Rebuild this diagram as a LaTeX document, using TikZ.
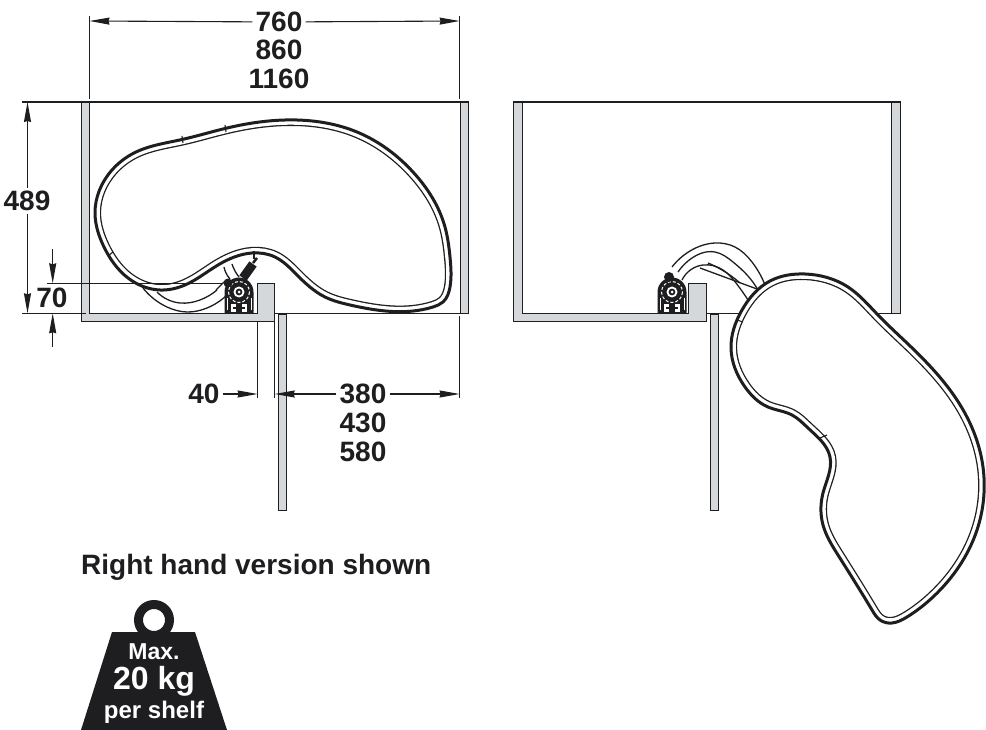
\documentclass[tikz,border=0pt]{standalone}
\usepackage{fontspec}
\setmainfont{Liberation Sans}
\usetikzlibrary{arrows.meta,hobby}
\definecolor{panelgrey}{HTML}{D5D8DA}
\definecolor{inkblack}{HTML}{1E1E20}
\tikzset{
	wall/.style={draw=inkblack, fill=panelgrey, line width=1, line join=miter},
	thin line/.style={draw=inkblack, line width=1.1},
	pipe/.style={draw=inkblack, line width=1.3},
	dimline/.style={draw=inkblack, line width=1.1, -{Stealth[length=20pt, width=7pt, inset=1pt]}},
	dimtext/.style={font=\bfseries\fontsize{28}{28}\selectfont, text=inkblack, inner sep=3pt},
	weighttext/.style={font=\bfseries\fontsize{#1}{#1}\selectfont, text=white, inner sep=0pt, anchor=base},
}
\def\kidney#1{
	\fill[white] plot[closed hobby] coordinates {#1};
	\begin{scope}
		\clip plot[closed hobby] coordinates {#1};
		\draw[inkblack, line width=12.2] plot[closed hobby] coordinates {#1};
		\draw[white, line width=9.6] plot[closed hobby] coordinates {#1};
	\end{scope}
	\draw[inkblack, line width=3, line join=round] plot[closed hobby] coordinates {#1};
}
\def\pivot#1{
	\begin{scope}[shift={(#1)}]
		\fill[inkblack] (-14.5,21) -- (-14.5,0) arc (180:360:14.5) -- (14.5,21) -- cycle;
		\draw[white, line width=1, dash pattern=on 3pt off 2pt] (0,0) circle (10.5);
		\fill[white] (0,0) circle (5.5);
		\fill[inkblack] (0,0) circle (3.4);
		\fill[white] (0,0) circle (1.5);
		\fill[white] (-8,12) rectangle (-3,20);
		\fill[white] (3,12) rectangle (8,20);
		\fill[inkblack] (-6,15) rectangle (6,17);
		\fill[white] (-12.5,6) rectangle (-11.5,18);
		\fill[white] (11.5,6) rectangle (12.5,18);
	\end{scope}
}

\begin{document}
\begin{tikzpicture}[x=1pt, y=-1pt]
	\useasboundingbox (0,0) rectangle (986,730);

	%%%%% LEFT CABINET %%%%%

	\draw[wall] (81,102) -- (81,322) -- (274.7,322) -- (274.7,283.3) -- (257.6,283.3) -- (257.6,313.3) -- (89.5,313.3) -- (89.5,102) -- cycle;
	\draw[wall] (460,102) rectangle (468.6,313.3);
	\draw[inkblack, line width=2.2] (81,102) -- (468.6,102);
	\draw[thin line] (274.7,313.3) -- (468.6,313.3);
	\draw[wall] (278,315) rectangle (286,510);

	\draw[pipe] plot[hobby] coordinates {(143,288) (167,307) (187,312) (207,308) (227,295)};
	\draw[pipe] plot[hobby] coordinates {(157,292) (180,303) (200,300) (217,290)};
	\draw[pipe] (216,290) -- (224,282);
	\draw[pipe] plot[hobby] coordinates {(224,267) (226,273) (230,279)};
	\draw[pipe] plot[hobby] coordinates {(232,264) (235,271) (239,277)};

	\kidney{(182,139.5) (225,128.5) (297,120) (357,132) (413,172) (445,227) (450,257) (450,287) (443,302) (433,307) (350,305) (325,297) (297,275) (275,257) (252,253) (218,265) (185,285) (160,290) (128,278) (104,247) (95,213) (112,170) (135,152.5)}

	\draw[thin line] (182,136) -- (183,143);
	\draw[thin line] (225,125) -- (226,132);
	\draw[thin line] (108,256) -- (113,252);
	\draw[thin line] (254,251) -- (254,259);

	\pivot{239,292}
	\fill[inkblack] (228,283) circle (4.5);
	\draw[inkblack, line width=9] (243,278) -- (253,264);
	\draw[inkblack, line width=2.5] (253,263) -- (257,258);

	%%%%% RIGHT CABINET %%%%%

	\draw[wall] (513,102) -- (513,322) -- (706.7,322) -- (706.7,283.3) -- (688.6,283.3) -- (688.6,313.3) -- (522,313.3) -- (522,102) -- cycle;
	\draw[wall] (891,102) rectangle (900,313.3);
	\draw[inkblack, line width=2.2] (513,102) -- (900,102);
	\draw[thin line] (706.7,313.3) -- (900,313.3);
	\draw[wall] (710,315) rectangle (718,510);

	\draw[pipe] plot[hobby] coordinates {(672,267) (690,251) (715,243) (735,247) (752,262) (765,285)};
	\draw[pipe] plot[hobby] coordinates {(678,272) (692,258) (715,252) (733,262) (748,276) (758,290)};
	\draw[pipe] plot[hobby] coordinates {(682,280) (703,265) (723,270) (736,283) (748,300)};
	\draw[pipe] (700,268) -- (757,289);
	\draw[pipe] plot[hobby] coordinates {(708,263) (722,270) (740,283)};

	\pivot{672,292}
	\fill[inkblack] (669,277) circle (5);

	\kidney{(805,274) (848,287) (878,315) (908,344) (962,408) (983,467) (977,530) (933,597) (907,617) (892,623) (880,620) (872,610) (838,555) (823,525) (823,493) (830,457) (808,428) (792,415) (768,407) (745,387) (731,348) (742,310) (770,281)}

	\draw[thin line] (876,313) -- (880,318);
	\draw[thin line] (907,343) -- (911,347);
	\draw[thin line] (737,320) -- (743,322);
	\draw[thin line] (820,438) -- (827,435);

	%%%%% DIMENSIONS %%%%%

	\node[dimtext] (width760) at (279,22) {760};
	\node[dimtext] (width860) at (279,50) {860};
	\node[dimtext] (width1160) at (279,79) {1160};
	\coordinate (widthleft) at (89.5,21);
	\coordinate (widthright) at (459.6,21);
	\draw[thin line] (89.5,16) -- (89.5,99);
	\draw[thin line] (459.6,16) -- (459.6,99);
	\draw[dimline] (width760) -- (widthleft);
	\draw[dimline] (width760) -- (widthright);

	\node[dimtext] (height489) at (27,201) {489};
	\coordinate (heighttop) at (27.5,102);
	\coordinate (heightbottom) at (27.5,313.3);
	\draw[thin line] (22,102) -- (81,102);
	\draw[thin line] (22,313.3) -- (86,313.3);
	\draw[dimline] (height489.north -| heighttop) -- (heighttop);
	\draw[dimline] (height489.south -| heightbottom) -- (heightbottom);

	\node[dimtext] (height70) at (52,298) {70};
	\coordinate (topstart) at (52.7,249);
	\coordinate (topend) at (52.7,283.3);
	\coordinate (bottomstart) at (52.7,347);
	\coordinate (bottomend) at (52.7,313.3);
	\draw[thin line] (47,283.3) -- (222,283.3);
	\draw[dimline] (topstart) -- (topend);
	\draw[dimline] (bottomstart) -- (bottomend);

	\node[dimtext] (gap40) at (204,394) {40};
	\coordinate (gapend) at (257.6,394);
	\draw[thin line] (257.6,322) -- (257.6,398);
	\draw[thin line] (274.7,313.3) -- (274.7,398);
	\draw[dimline] (gap40) -- (gapend);

	\node[dimtext] (depth380) at (363,394) {380};
	\node[dimtext] (depth430) at (363,423) {430};
	\node[dimtext] (depth580) at (363,452) {580};
	\coordinate (depthleft) at (274.7,394);
	\coordinate (depthright) at (459.6,394);
	\draw[thin line] (459.6,316) -- (459.6,398);
	\draw[dimline] (depth380) -- (depthleft);
	\draw[dimline] (depth380) -- (depthright);

	%%%%% WEIGHT %%%%%

	\node[font=\bfseries\fontsize{28}{28}\selectfont, text=inkblack, inner sep=0pt, anchor=base west] (handnote) at (81,574) {Right hand version shown};

	\draw[inkblack, line width=9] (154,620) circle (15.5);
	\fill[inkblack] (112,632) -- (195,632) -- (227,730) -- (81,730) -- cycle;
	\node[weighttext=23] (maxlabel) at (154,659) {Max.};
	\node[weighttext=32] (kglabel) at (154,689) {20 kg};
	\node[weighttext=24] (shelflabel) at (154,718) {per shelf};
\end{tikzpicture}
\end{document}
